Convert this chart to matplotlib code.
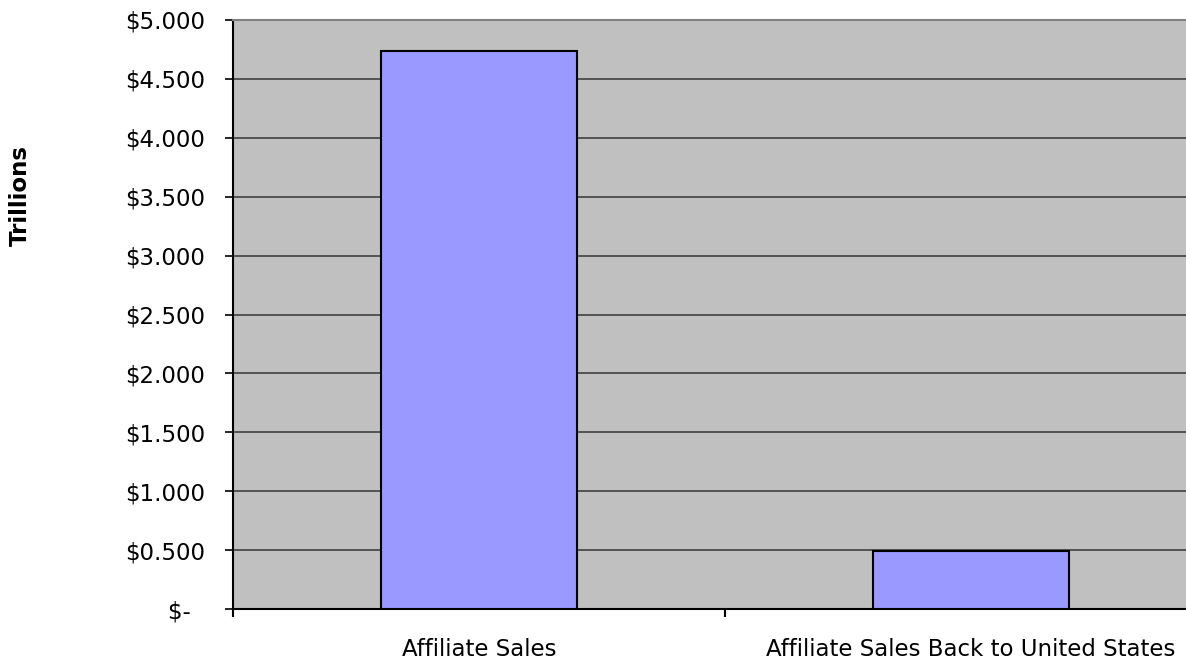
import numpy as np
import matplotlib
matplotlib.use("Agg")
from matplotlib import pyplot as plt
from matplotlib.ticker import FixedLocator, NullFormatter

categories = ["Affiliate Sales", "Affiliate Sales Back to United States"]
values = [4.737, 0.492]
y_ticks = [0, 0.5, 1.0, 1.5, 2.0, 2.5, 3.0, 3.5, 4.0, 4.5, 5.0]
y_labels = ["$-  ", "$0.500", "$1.000", "$1.500", "$2.000", "$2.500",
            "$3.000", "$3.500", "$4.000", "$4.500", "$5.000"]

plt.rcParams['font.family'] = ['DejaVu Sans']

fig = plt.figure(figsize=(11.86, 6.6), dpi=100)
# plot area runs past the right edge of the picture, like the source
ax = fig.add_axes([233 / 1186, 51 / 660, 984 / 1186, 589 / 660])
ax.set_facecolor('#C0C0C0')

x = np.arange(len(categories)) + 0.5
ax.bar(x, values, width=0.4, color='#9999FF', edgecolor='black', lw=1.5, zorder=3)

ax.set_xlim(0, 2)
ax.set_ylim(0, 5)
ax.set_yticks(y_ticks)
ax.set_yticklabels(y_labels, fontsize=16.5)
ax.yaxis.grid(True, color='#404040', lw=1.2, zorder=0)
ax.set_axisbelow(True)

ax.xaxis.set_major_locator(FixedLocator([0, 1, 2]))
ax.xaxis.set_major_formatter(NullFormatter())
ax.xaxis.set_minor_locator(FixedLocator(list(x)))
ax.set_xticklabels(categories, minor=True, fontsize=16.5)
ax.tick_params(axis='x', which='minor', length=0, pad=21)
ax.tick_params(axis='x', which='major', length=6, width=1.5, direction='out')
ax.tick_params(axis='y', length=6, width=1.2, direction='out', pad=14)

ax.spines['left'].set_color('black')
ax.spines['left'].set_linewidth(1.5)
ax.spines['bottom'].set_color('black')
ax.spines['bottom'].set_linewidth(1.5)
ax.spines['top'].set_color('#808080')
ax.spines['top'].set_linewidth(1.5)
ax.spines['right'].set_color('#808080')

fig.text(20 / 1186, 1 - 195 / 660, "Trillions", rotation=90, fontsize=16.5,
         fontweight='bold', ha='center', va='center')

fig.savefig("out.png", dpi=100)
